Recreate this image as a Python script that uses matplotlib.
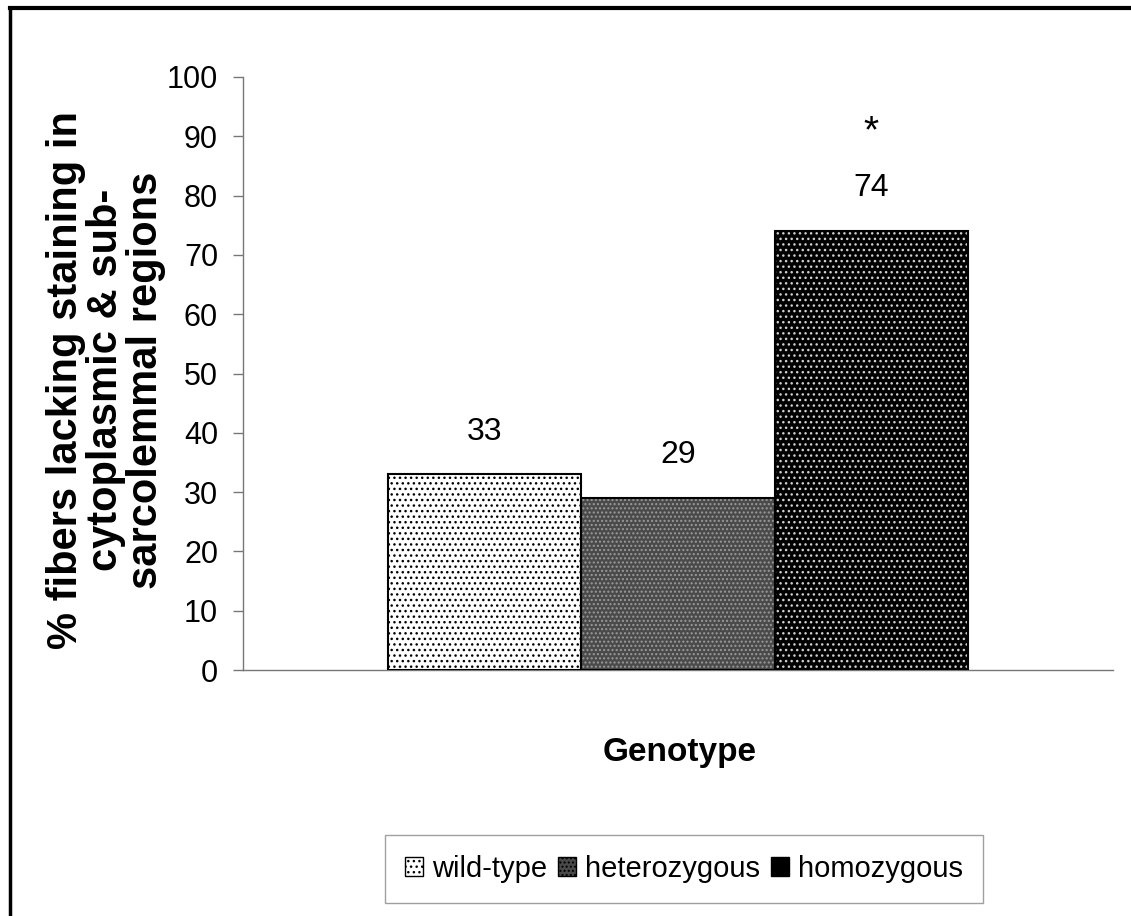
import matplotlib
matplotlib.use("Agg")
import matplotlib.pyplot as plt
from matplotlib.lines import Line2D
from matplotlib.patches import Patch
from matplotlib import font_manager as fm

categories = ["wild-type", "heterozygous", "homozygous"]
values = [33, 29, 74]
value_labels = ["33", "29", "74"]
annotations = ["", "", "*"]
yticks = [0, 10, 20, 30, 40, 50, 60, 70, 80, 90, 100]

names = {f.name for f in fm.fontManager.ttflist}
NARROW = ["Liberation Sans Narrow", "Liberation Sans", "DejaVu Sans"] if "Liberation Sans Narrow" in names else ["Liberation Sans", "DejaVu Sans"]
WIDE = ["Liberation Sans", "DejaVu Sans"]

faces = ["white", "#4a4a4a", "black"]
dotcolors = ["black", "#9a9a9a", "#d0d0d0"]
hatches = ["...", "....", "..."]

fig = plt.figure(figsize=(11.31, 9.16), dpi=100)
ax = fig.add_axes([243/1131, 1-670/916, 870/1131, 593/916])

width = 0.2222
offsets = [-width, 0.0, width]
for i, (cat, v) in enumerate(zip(categories, values)):
    ax.bar(offsets[i], v, width=width, color=faces[i], edgecolor="none", linewidth=0, zorder=2)
    ax.bar(offsets[i], v, width=width, facecolor="none", edgecolor=dotcolors[i], hatch=hatches[i], linewidth=0, zorder=3)
    ax.bar(offsets[i], v, width=width, facecolor="none", edgecolor="black", linewidth=1.5, zorder=4)
    ax.annotate(value_labels[i], xy=(offsets[i], v), xytext=(0, 20), textcoords="offset points",
                ha="center", va="bottom", fontsize=23, family=NARROW)
    if annotations[i]:
        ax.annotate(annotations[i], xy=(offsets[i], v), xytext=(0, 58), textcoords="offset points",
                    ha="center", va="bottom", fontsize=28, family=NARROW)

ax.set_xlim(-0.5, 0.5)
ax.set_ylim(0, 100)
ax.set_yticks(yticks)
ax.set_yticklabels([str(t) for t in yticks], family=NARROW, fontsize=22)
ax.set_xticks([])
for s in ["top", "right"]:
    ax.spines[s].set_visible(False)
for s in ["left", "bottom"]:
    ax.spines[s].set_color("#777777")
    ax.spines[s].set_linewidth(1.0)
ax.tick_params(axis="y", direction="out", length=7, width=1, color="#777777", pad=11)

fig.text(106/1131, 1-380/916, "% fibers lacking staining in\ncytoplasmic & sub-\nsarcolemmal regions",
         rotation=90, ha="center", va="center", multialignment="center",
         fontsize=30, fontweight="bold", family=WIDE, linespacing=1.0)

fig.text(680/1131, 1-752/916, "Genotype", ha="center", va="center",
         fontsize=24, fontweight="bold", family=NARROW)

handles = [Patch(facecolor=faces[i], edgecolor="black", hatch=hatches[i], linewidth=1) for i in range(3)]
leg = fig.legend(handles, categories, loc="center", bbox_to_anchor=(684/1131, 1-869/916), ncol=3,
                 frameon=True, fancybox=False, edgecolor="#888888", handlelength=0.6, handleheight=0.6,
                 handletextpad=0.3, columnspacing=0.4, borderpad=0.7,
                 prop={"family": NARROW, "size": 21})
leg.get_frame().set_linewidth(1.0)

# outer border (top and left)
fig.add_artist(Line2D([10/1131, 1.0], [1-8/916, 1-8/916], transform=fig.transFigure, color="black", linewidth=3))
fig.add_artist(Line2D([10/1131, 10/1131], [0.0, 1-8/916], transform=fig.transFigure, color="black", linewidth=2.5))

fig.savefig("out.png", dpi=100)
